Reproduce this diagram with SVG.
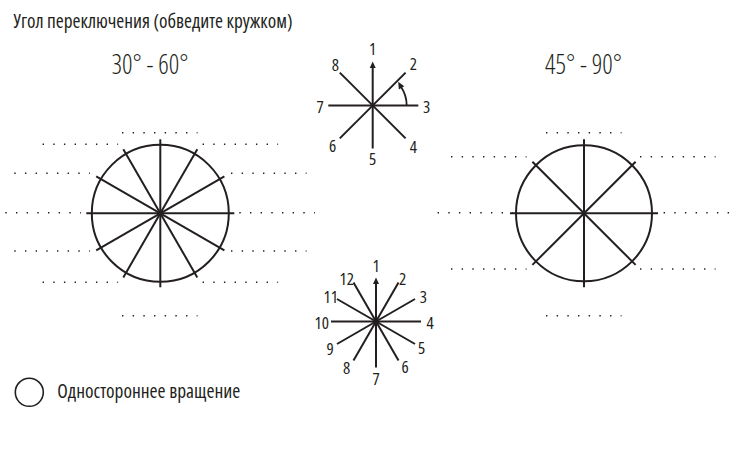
<svg xmlns="http://www.w3.org/2000/svg" width="734" height="450" viewBox="0 0 734 450">
<style>
.t{font-family:"Open Sans","DejaVu Sans Condensed","Liberation Sans",sans-serif;font-stretch:75%;font-weight:400;fill:#231f20}
.n{font-size:17px;text-anchor:middle}
.big{font-size:27px;text-anchor:middle;font-weight:300}
.s{stroke:#231f20;stroke-width:2;fill:none}
.c{stroke:#231f20;stroke-width:2;fill:none}
.d{stroke:#231f20;stroke-width:1.4;stroke-dasharray:1.4 9.27;fill:none}
</style>
<rect width="734" height="450" fill="#fff"/>
<text class="t" x="13.5" y="28.3" font-size="19" textLength="279" lengthAdjust="spacingAndGlyphs">Угол переключения (обведите кружком)</text>
<text class="t big" x="150" y="74" textLength="77" lengthAdjust="spacingAndGlyphs">30° - 60°</text>
<text class="t big" x="583.5" y="74" textLength="77" lengthAdjust="spacingAndGlyphs">45° - 90°</text>

<g id="dial-30-60">
<circle class="c" cx="160.3" cy="213.3" r="68.5"/>
<g class="s">
<line x1="86.3" y1="213.3" x2="234.3" y2="213.3"/>
<line x1="160.3" y1="139.3" x2="160.3" y2="287.3"/>
<line x1="96.2" y1="176.3" x2="224.4" y2="250.3"/>
<line x1="123.3" y1="149.2" x2="197.3" y2="277.4"/>
<line x1="197.3" y1="149.2" x2="123.3" y2="277.4"/>
<line x1="224.4" y1="176.3" x2="96.2" y2="250.3"/>
</g>
<circle cx="160.3" cy="213.3" r="2.5" fill="#231f20"/>
<g class="d">
<path d="M122 132.7h75.5M42.6 144.3h75.5M202.6 144.3h75.5M14.3 173.3h75.5M231 173.3h75.5M5.3 212.7h75.5M239.3 212.7h75.5M14.3 251h75.5M231 251h75.5M42.6 282.3h75.5M202.6 282.3h75.5M122 315.7h75.5"/>
</g>
</g>

<g id="dial-45-90">
<circle class="c" cx="584" cy="213.3" r="68"/>
<g class="s">
<line x1="510" y1="213.3" x2="658" y2="213.3"/>
<line x1="584" y1="139.3" x2="584" y2="287.3"/>
<line x1="532.4" y1="161.7" x2="635.6" y2="264.9"/>
<line x1="635.6" y1="161.7" x2="532.4" y2="264.9"/>
</g>
<g class="d">
<path d="M546 132.7h75.5M451 156.7h75.5M640 156.7h75.5M437.6 212.7h75.5M663.6 212.7h75.5M451 269h75.5M640 269h75.5M546 315.7h75.5"/>
</g>
</g>

<g id="star-8">
<g class="s">
<line x1="372.7" y1="67" x2="372.7" y2="148.5"/>
<line x1="328.3" y1="105.5" x2="418.3" y2="105.5"/>
<line x1="339.8" y1="72.6" x2="405.6" y2="138.4"/>
<line x1="405.6" y1="72.6" x2="339.8" y2="138.4"/>
<path d="M406.7 105.5A34 34 0 0 0 401.3 87.3" stroke-width="1.8"/>
</g>
<polygon points="372.7,61.5 369.7,68 375.7,68" fill="#231f20"/>
<polygon points="398.2,81.8 404.2,86.2 398.8,89.4" fill="#231f20"/>
<circle cx="372.7" cy="105.5" r="2" fill="#231f20"/>
<g class="t n">
<text x="372.7" y="55">1</text>
<text x="413.3" y="70">2</text>
<text x="426.7" y="113.3">3</text>
<text x="413.3" y="153.3">4</text>
<text x="372.7" y="165">5</text>
<text x="332.7" y="151.7">6</text>
<text x="320" y="113.3">7</text>
<text x="335.3" y="70.7">8</text>
</g>
</g>

<g id="star-12">
<g class="s">
<line x1="376" y1="283" x2="376" y2="367.5"/>
<line x1="331" y1="321.5" x2="421" y2="321.5"/>
<line x1="337" y1="299" x2="415" y2="344"/>
<line x1="353.5" y1="282.5" x2="398.5" y2="360.5"/>
<line x1="398.5" y1="282.5" x2="353.5" y2="360.5"/>
<line x1="415" y1="299" x2="337" y2="344"/>
</g>
<polygon points="376,277.5 373,284 379,284" fill="#231f20"/>
<circle cx="376" cy="321.5" r="2" fill="#231f20"/>
<g class="t n">
<text x="376" y="271.7">1</text>
<text x="402.7" y="285">2</text>
<text x="423.3" y="303.3">3</text>
<text x="430" y="329.3">4</text>
<text x="421.7" y="354">5</text>
<text x="405" y="373.3">6</text>
<text x="376" y="385">7</text>
<text x="346.7" y="374">8</text>
<text x="330" y="355">9</text>
<text x="321.7" y="329.3">10</text>
<text x="330.7" y="303.3">11</text>
<text x="346.7" y="285">12</text>
</g>
</g>

<g id="legend">
<circle cx="29.3" cy="392.3" r="14" stroke="#231f20" stroke-width="1.6" fill="none"/>
<text class="t" x="57.3" y="398.3" font-size="19" textLength="183" lengthAdjust="spacingAndGlyphs">Одностороннее вращение</text>
</g>
</svg>
